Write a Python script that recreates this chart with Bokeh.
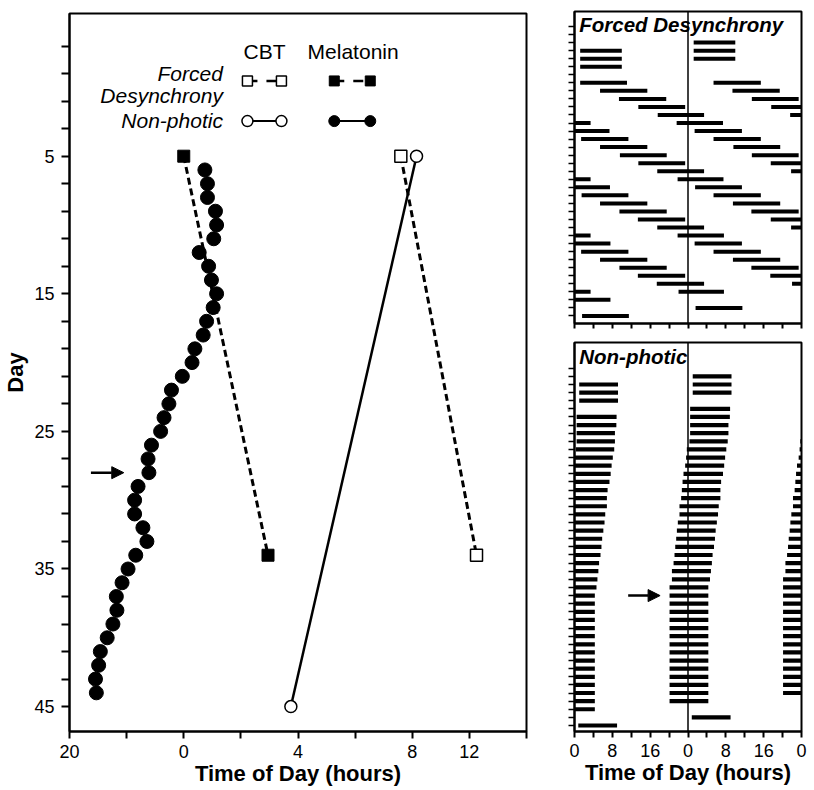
from bokeh.plotting import figure
from bokeh.models import Range1d, FixedTicker, Label, Arrow, NormalHead, Span
from bokeh.layouts import row, column
from bokeh.embed import file_html
from bokeh.resources import INLINE

FONT = "Liberation Sans"

# ---------------- left panel data ----------------
mel_np_day = [6, 7, 8, 9, 10, 11, 12, 13, 14, 15, 16, 17, 18, 19, 20, 21, 22, 23, 24, 25,
              26, 27, 28, 29, 30, 31, 32, 33, 34, 35, 36, 37, 38, 39, 40, 41, 42, 43, 44]
mel_np_hour = [0.74, 0.83, 0.83, 1.11, 1.15, 1.05, 0.54, 0.87, 0.97, 1.15, 1.03, 0.80, 0.68,
               0.39, 0.29, -0.05, -0.43, -0.52, -0.69, -0.81, -1.13, -1.25, -1.22, -1.60,
               -1.72, -1.72, -1.43, -1.29, -1.68, -1.95, -2.16, -2.36, -2.34, -2.48, -2.68,
               -2.92, -2.98, -3.09, -3.06]
mel_fd_day = [5, 34]
mel_fd_hour = [0.0, 2.95]
cbt_fd_day = [5, 34]
cbt_fd_hour = [7.6, 10.25]
cbt_np_day = [5, 45]
cbt_np_hour = [8.15, 3.75]

x_ticks = [-4, -2, 0, 2, 4, 6, 8, 10, 12]
x_tick_labels = ["20", "", "0", "", "4", "", "8", "12", ""]
y_ticks = [-3, -1, 1, 3, 5, 7, 9, 11, 13, 15, 17, 19, 21, 23, 25, 27, 29, 31, 33, 35, 37, 39, 41, 43, 45]
y_labeled = [5, 15, 25, 35, 45]

# ---------------- raster data (double plotted) ----------------
# Forced desynchrony: day of onset, onset hour, offset hour (may pass 24)
fd_day = [3, 4, 5, 7, 8, 9, 10, 11, 12, 14, 15, 16, 17, 18, 19, 21, 22, 23, 24, 25, 26,
          28, 29, 30, 31, 32, 33, 36]
fd_on = [1.2, 1.2, 1.2, 1.2, 5.4, 9.4, 13.5, 17.6, 21.6, 1.4, 5.4, 9.6, 13.5, 17.5, 21.8,
         1.5, 5.4, 9.5, 13.4, 17.5, 21.8, 1.4, 5.4, 9.5, 13.4, 17.4, 22.0, 1.6]
fd_off = [10.0, 10.0, 10.0, 11.1, 15.4, 19.4, 23.4, 27.4, 31.4, 11.4, 15.4, 19.5, 23.4, 27.4,
          31.5, 11.4, 15.4, 19.5, 23.4, 27.4, 31.6, 11.4, 15.4, 19.5, 23.4, 27.4, 31.6, 11.5]
fd_left_only_rows = [6]
fd_nrows = 37

# Non-photic: wake day, onset / offset hour relative to that day's midnight
np_day = [2, 3, 4, 6, 7, 8, 9, 10, 11, 12, 13, 14, 15, 16, 17, 18, 19, 20, 21, 22, 23, 24,
          25, 26, 27, 28, 29, 30, 31, 32, 33, 34, 35, 36, 37, 38, 39, 40, 41, 42, 44]
np_on = [1.0, 1.0, 1.0, 0.45, 0.45, 0.45, 0.45, 0.3, -0.25, -0.4, -0.6, -0.95, -1.15, -1.3,
         -1.45, -1.8, -1.8, -2.15, -2.35, -2.5, -2.7, -2.85, -3.05, -3.4, -3.4,
         -3.9, -3.9, -3.9, -3.9, -3.9, -3.9, -3.9, -3.9, -3.9, -3.9, -3.9, -3.9, -3.9, -3.9,
         -3.9, 0.8]
np_off = [9.2, 9.2, 9.2, 8.9, 8.85, 8.55, 8.55, 8.4, 8.1, 7.85, 7.65, 7.4, 7.0, 6.85, 6.85,
          6.5, 6.35, 6.1, 5.85, 5.7, 5.5, 5.2, 5.05, 4.85, 4.65,
          4.3, 4.3, 4.3, 4.3, 4.3, 4.3, 4.3, 4.3, 4.3, 4.3, 4.3, 4.3, 4.3, 4.3, 4.3, 9.0]
np_nrows = 45

r_ticks = [0, 4, 8, 12, 16, 20, 24, 28, 32, 36, 40, 44, 48]
r_tick_labels = ["0", "", "8", "", "16", "", "0", "", "8", "", "16", "", "0"]


def double_plot(days, on, off, nrows, left_only_rows=()):
    on_abs = [24 * d + a for d, a in zip(days, on)]
    off_abs = [24 * d + b for d, b in zip(days, off)]
    rows, xs0, xs1 = [], [], []
    for k in range(nrows):
        lo = 24 * k
        hi = lo + (24 if k in left_only_rows else 48)
        for a, b in zip(on_abs, off_abs):
            s, e = max(a, lo), min(b, hi)
            if e > s:
                rows.append(k)
                xs0.append(s - lo)
                xs1.append(e - lo)
    return dict(row=rows, x0=xs0, x1=xs1)


def base_fig(**kw):
    p = figure(output_backend="svg", toolbar_location=None, title=None, **kw)
    p.xgrid.visible = False
    p.ygrid.visible = False
    p.outline_line_color = "black"
    p.outline_line_width = 2
    p.background_fill_color = "white"
    p.border_fill_color = "white"
    for ax in (p.xaxis[0], p.yaxis[0]):
        ax.axis_line_width = 2
        ax.axis_line_color = "black"
        ax.major_tick_line_width = 2
        ax.major_tick_line_color = "black"
        ax.minor_tick_line_color = None
        ax.major_tick_in = 0
        ax.major_label_text_font = FONT
        ax.major_label_text_color = "black"
        ax.axis_label_text_font = FONT
        ax.axis_label_text_color = "black"
    return p


def style_xtitle(ax):
    ax.axis_label = "Time of Day (hours)"
    ax.axis_label_text_font_size = "22px"
    ax.axis_label_text_font_style = "bold"
    ax.axis_label_standoff = 0


# ---------------- left figure ----------------
p = base_fig(width=545, height=790, x_range=Range1d(-4, 12), y_range=Range1d(46.81, -5.37),
             min_border_left=69, min_border_right=19, min_border_top=13, min_border_bottom=59)
p.xaxis.ticker = FixedTicker(ticks=x_ticks)
p.xaxis.major_label_overrides = {t: l for t, l in zip(x_ticks, x_tick_labels)}
p.xaxis.major_tick_out = 7
p.xaxis.major_label_standoff = 6
p.xaxis.major_label_text_font_size = "18px"
style_xtitle(p.xaxis[0])
p.yaxis.ticker = FixedTicker(ticks=y_ticks)
p.yaxis.major_label_overrides = {t: (str(t) if t in y_labeled else "") for t in y_ticks}
p.yaxis.major_tick_out = 8
p.yaxis.major_label_standoff = 7
p.yaxis.major_label_text_font_size = "18px"
p.yaxis.axis_label = "Day"
p.yaxis.axis_label_text_font_size = "22px"
p.yaxis.axis_label_text_font_style = "bold"
p.yaxis.axis_label_standoff = 3

p.line(mel_fd_hour, mel_fd_day, line_width=3, line_dash="7 4", line_color="black")
p.line(cbt_fd_hour, cbt_fd_day, line_width=3, line_dash="7 4", line_color="black")
p.line(cbt_np_hour, cbt_np_day, line_width=2.5, line_color="black")
p.scatter(mel_np_hour, mel_np_day, marker="circle", size=14, fill_color="black", line_color="black")
p.scatter(mel_fd_hour, mel_fd_day, marker="square", size=12, fill_color="black", line_color="black")
p.scatter(cbt_fd_hour, cbt_fd_day, marker="square", size=12, fill_color="white",
          line_color="black", line_width=1.5)
p.scatter(cbt_np_hour, cbt_np_day, marker="circle", size=12, fill_color="white",
          line_color="black", line_width=1.5)

# legend (layout constants in data units)
LEG_LABEL_X = 1.37
LEG_HEAD_Y = -2.61
LEG_FD_Y = -0.47
LEG_NP_Y = 2.45
LEG_CBT_X = [2.23, 3.42]
LEG_MEL_X = [5.27, 6.53]
for txt, x in (("CBT", 2.83), ("Melatonin", 5.93)):
    p.add_layout(Label(x=x, y=LEG_HEAD_Y, text=txt, text_align="center", text_baseline="alphabetic",
                       text_font=FONT, text_font_size="21px", text_color="black"))
for txt, y in (("Forced", -1.01), ("Desynchrony", 0.62), ("Non-photic", 2.41)):
    p.add_layout(Label(x=LEG_LABEL_X, y=y, text=txt, text_align="right", text_baseline="alphabetic",
                       text_font=FONT, text_font_size="21px", text_font_style="italic",
                       text_color="black"))
p.line(LEG_CBT_X, [LEG_FD_Y, LEG_FD_Y], line_width=2.5, line_dash="10 9", line_color="black")
p.line(LEG_MEL_X, [LEG_FD_Y, LEG_FD_Y], line_width=2.5, line_dash="10 9", line_color="black")
p.line(LEG_CBT_X, [LEG_NP_Y, LEG_NP_Y], line_width=2, line_color="black")
p.line(LEG_MEL_X, [LEG_NP_Y, LEG_NP_Y], line_width=2, line_color="black")
p.scatter(LEG_CBT_X, [LEG_FD_Y, LEG_FD_Y], marker="square", size=10, fill_color="white",
          line_color="black", line_width=1.5)
p.scatter(LEG_MEL_X, [LEG_FD_Y, LEG_FD_Y], marker="square", size=10, fill_color="black",
          line_color="black")
p.scatter(LEG_CBT_X, [LEG_NP_Y, LEG_NP_Y], marker="circle", size=11, fill_color="white",
          line_color="black", line_width=1.5)
p.scatter(LEG_MEL_X, [LEG_NP_Y, LEG_NP_Y], marker="circle", size=11, fill_color="black",
          line_color="black")

p.add_layout(Arrow(x_start=-3.25, y_start=28, x_end=-2.1, y_end=28, line_width=2.5,
                   line_color="black",
                   end=NormalHead(size=12, fill_color="black", line_color="black", line_width=1)))


# ---------------- right figures ----------------
def raster_fig(height, yr, border_top, border_bottom):
    q = base_fig(width=265, height=height, x_range=Range1d(0, 48), y_range=yr,
                 min_border_left=29, min_border_right=9, min_border_top=border_top,
                 min_border_bottom=border_bottom)
    q.xaxis.ticker = FixedTicker(ticks=r_ticks)
    q.yaxis.ticker = FixedTicker(ticks=list(range(0, int(yr.start) + 1)))
    q.yaxis.major_label_text_font_size = "0px"
    q.yaxis.major_label_standoff = 0
    q.yaxis.major_label_overrides = {t: "" for t in range(0, int(yr.start) + 1)}
    q.yaxis.major_tick_out = 6
    q.yaxis.major_tick_line_width = 1.5
    q.add_layout(Span(location=24, dimension="height", line_color="black", line_width=1.5))
    return q


pt = raster_fig(331, Range1d(36.94, -1.87), 11, 8)
pt.xaxis.major_label_text_font_size = "0px"
pt.xaxis.major_label_standoff = 0
pt.xaxis.major_label_overrides = {t: "" for t in r_ticks}
pt.xaxis.major_tick_out = 5
fd = double_plot(fd_day, fd_on, fd_off, fd_nrows, fd_left_only_rows)
pt.segment(x0=fd["x0"], y0=fd["row"], x1=fd["x1"], y1=fd["row"], line_width=4,
           line_color="black", line_cap="butt")
pt.add_layout(Label(x=1.0, y=-0.29, text="Forced Desynchrony", text_baseline="alphabetic",
                    text_font=FONT, text_font_size="20.5px", text_font_style="bold italic",
                    text_color="black"))

pb = raster_fig(459, Range1d(44.74, -3.17), 11, 59)
pb.xaxis.major_label_overrides = {t: l for t, l in zip(r_ticks, r_tick_labels)}
pb.xaxis.major_label_text_font_size = "18px"
pb.xaxis.major_tick_out = 6
pb.xaxis.major_label_standoff = 6
style_xtitle(pb.xaxis[0])
npd = double_plot(np_day, np_on, np_off, np_nrows)
pb.segment(x0=npd["x0"], y0=npd["row"], x1=npd["x1"], y1=npd["row"], line_width=4.2,
           line_color="black", line_cap="butt")
pb.add_layout(Label(x=1.0, y=-1.41, text="Non-photic", text_baseline="alphabetic",
                    text_font=FONT, text_font_size="20.5px", text_font_style="bold italic",
                    text_color="black"))
pb.add_layout(Arrow(x_start=11.35, y_start=28, x_end=18.1, y_end=28, line_width=2.5,
                    line_color="black",
                    end=NormalHead(size=12, fill_color="black", line_color="black", line_width=1)))

layout = row(p, column(pt, pb, spacing=0), spacing=0)
open("out.html", "w").write(file_html(layout, INLINE))
